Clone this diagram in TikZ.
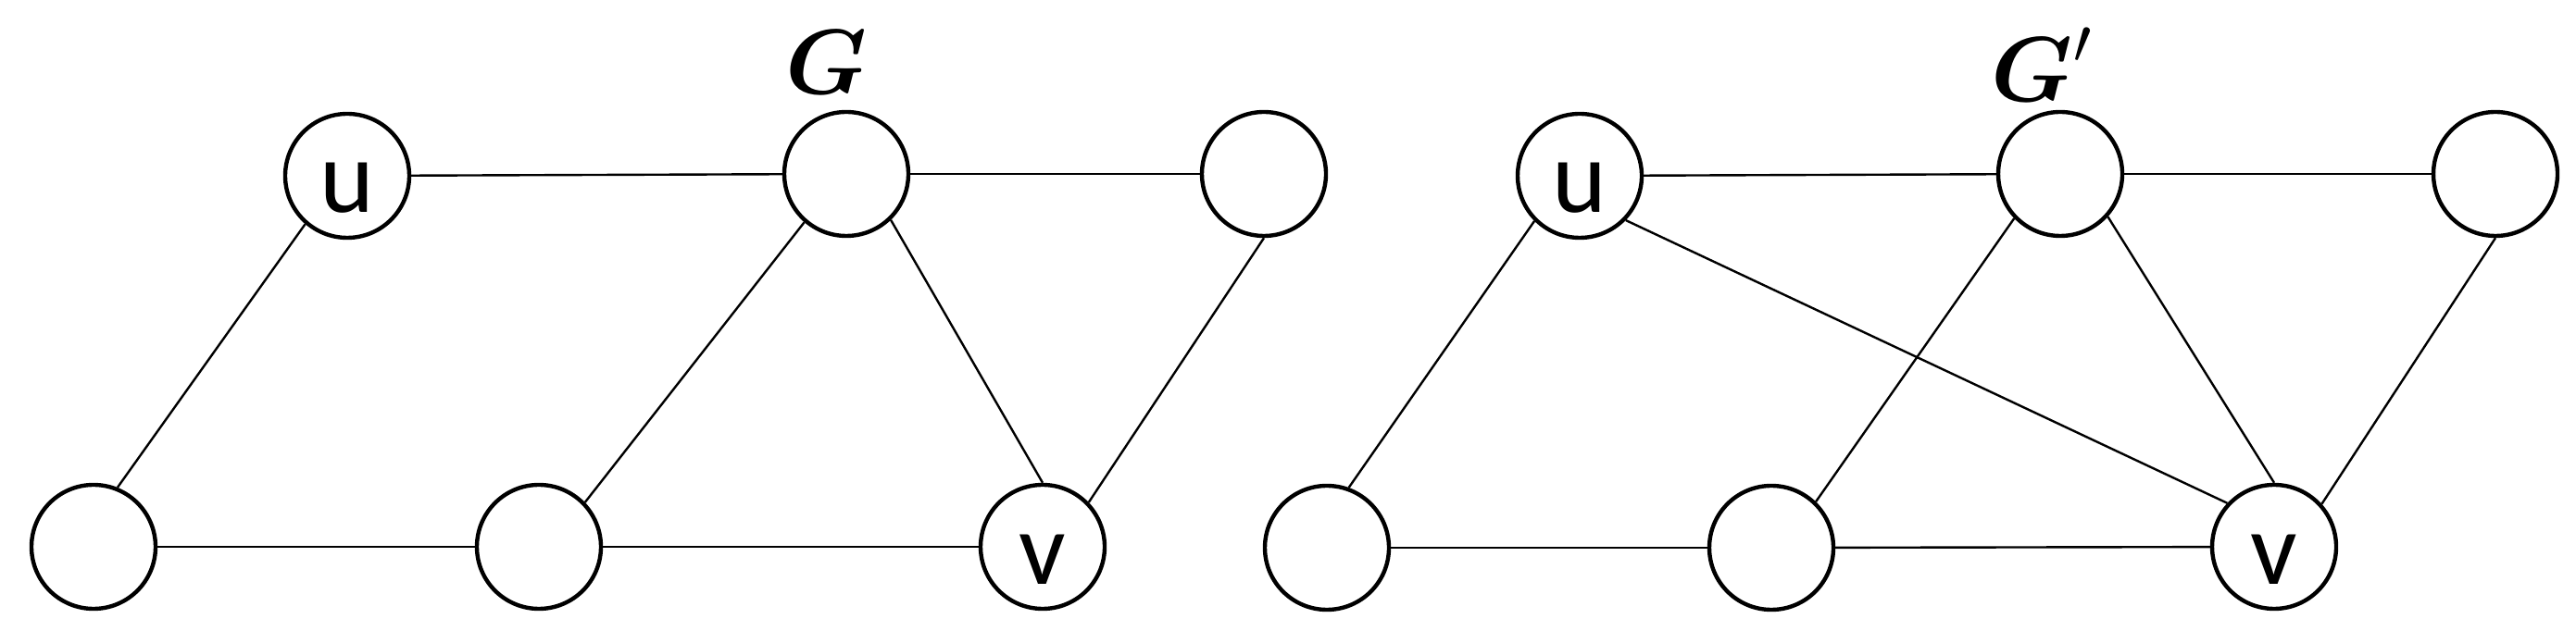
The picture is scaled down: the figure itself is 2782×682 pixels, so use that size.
\documentclass[tikz,border=0pt]{standalone}
\usepackage{amsmath}
\usepackage{fontspec}
\newfontfamily\nodefont{Carlito}
\begin{document}
\begin{tikzpicture}[x=0.25pt,y=-0.25pt,
  vtx/.style={circle,draw,line width=1.1pt,minimum size=33.5pt,inner sep=0pt,
    font=\nodefont\fontsize{28}{30}\selectfont},
  edge/.style={line width=0.6pt},
  glabel/.style={inner sep=0pt,font=\fontsize{26}{28}\selectfont}]
\useasboundingbox (0,0) rectangle (2782,682);
% left graph G
\node[vtx] (uL)  at (375,190)  {\raisebox{-3.5pt}[13pt][0pt]{u}};
\node[vtx] (GL)  at (914,188)  {};
\node[vtx] (TRL) at (1365,188) {};
\node[vtx] (BLL) at (101,591)  {};
\node[vtx] (BML) at (582,591)  {};
\node[vtx] (vL)  at (1126,591) {\raisebox{-3.75pt}[13pt][0pt]{v}};
\node[glabel,anchor=base] (labG) at (893,102) {$\boldsymbol{G}$};
\draw[edge] (uL) -- (GL);
\draw[edge] (GL) -- (TRL);
\draw[edge] (uL.229) -- (BLL.68);
\draw[edge] (BLL) -- (BML);
\draw[edge] (BML) -- (vL);
\draw[edge] (BML.44) -- (GL.229);
\draw[edge] (GL.314) -- (vL.90);
\draw[edge] (vL.44) -- (TRL.270);
% right graph G'
\node[vtx] (uR)  at (1706,190) {\raisebox{-3.5pt}[13pt][0pt]{u}};
\node[vtx] (GR)  at (2225,188) {};
\node[vtx] (TRR) at (2695,188) {};
\node[vtx] (BLR) at (1433,592) {};
\node[vtx] (BMR) at (1913,592) {};
\node[vtx] (vR)  at (2456,591) {\raisebox{-3.75pt}[13pt][0pt]{v}};
\node[glabel,anchor=base west] (labGp) at (2150,110) {$\boldsymbol{G}'$};
\draw[edge] (uR) -- (GR);
\draw[edge] (GR) -- (TRR);
\draw[edge] (uR.225) -- (BLR.70);
\draw[edge] (uR.316) -- (vR.137);
\draw[edge] (GR.224) -- (BMR.46);
\draw[edge] (GR.318) -- (vR.90);
\draw[edge] (vR.42) -- (TRR.270);
\draw[edge] (BLR) -- (BMR);
\draw[edge] (BMR) -- (vR);
\end{tikzpicture}
\end{document}
